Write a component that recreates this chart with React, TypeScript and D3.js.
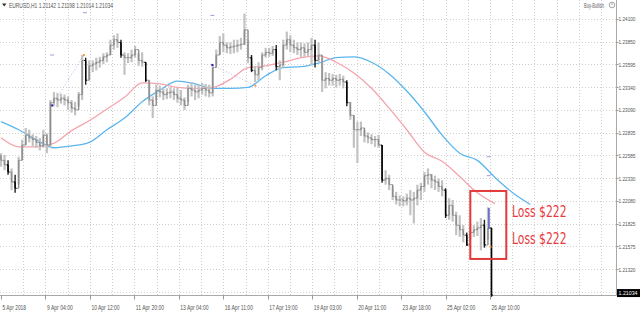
import React from "react";
import * as d3 from "d3";

// ---- data (EURUSD H1, sampled bars) ----
const highs = [
  1.2261, 1.2259, 1.2253, 1.2244, 1.2237, 1.2257, 1.2276, 1.2289, 1.2287, 1.2282,
  1.228, 1.2278, 1.2287, 1.2283, 1.232, 1.2329, 1.2328, 1.2327, 1.2326, 1.2324,
  1.232, 1.2318, 1.2329, 1.237, 1.2367, 1.2364, 1.2364, 1.2367, 1.2368, 1.2372,
  1.2373, 1.2387, 1.2392, 1.2394, 1.2387, 1.2373, 1.2372, 1.2376, 1.238, 1.2372,
  1.2373, 1.2362, 1.2342, 1.2324, 1.2337, 1.2336, 1.2333, 1.2333, 1.2334, 1.2333,
  1.2334, 1.2331, 1.2323, 1.2337, 1.234, 1.2337, 1.2337, 1.2339, 1.2338, 1.2337,
  1.2359, 1.2376, 1.2391, 1.2394, 1.2384, 1.2384, 1.2387, 1.2387, 1.2389, 1.2416,
  1.2387, 1.237, 1.2358, 1.2362, 1.2373, 1.2378, 1.2378, 1.238, 1.2381, 1.2364,
  1.2387, 1.2396, 1.2392, 1.2387, 1.2384, 1.2384, 1.2383, 1.2384, 1.2389, 1.2387,
  1.2384, 1.2367, 1.2351, 1.235, 1.2349, 1.2348, 1.2349, 1.2347, 1.2342, 1.2318,
  1.2303, 1.2296, 1.2296, 1.2287, 1.2284, 1.2282, 1.228, 1.2281, 1.227, 1.2242,
  1.2237, 1.2224, 1.2218, 1.2214, 1.2213, 1.2216, 1.222, 1.2218, 1.2226, 1.2228,
  1.224, 1.2244, 1.2238, 1.2236, 1.2233, 1.2231, 1.2222, 1.2211, 1.2209, 1.2196,
  1.2192, 1.2181, 1.2173, 1.218, 1.2181, 1.2185, 1.2189, 1.2187, 1.2201, 1.2178,
];
const lows = [
  1.2246, 1.2242, 1.2237, 1.222, 1.2217, 1.2226, 1.2253, 1.227, 1.2273, 1.2269,
  1.2267, 1.2264, 1.2267, 1.2261, 1.2267, 1.2313, 1.2312, 1.2316, 1.2314, 1.2309,
  1.2306, 1.2303, 1.2313, 1.232, 1.2337, 1.2342, 1.2351, 1.2353, 1.2356, 1.236,
  1.2362, 1.237, 1.2376, 1.2378, 1.2367, 1.2348, 1.2361, 1.2362, 1.2367, 1.2358,
  1.2357, 1.234, 1.2314, 1.23, 1.232, 1.2323, 1.232, 1.2321, 1.2322, 1.232,
  1.2317, 1.2314, 1.2309, 1.2318, 1.2324, 1.232, 1.2322, 1.2326, 1.2324, 1.2323,
  1.2324, 1.2358, 1.237, 1.2373, 1.2372, 1.2371, 1.2372, 1.2373, 1.2376, 1.2381,
  1.2361, 1.2351, 1.234, 1.2342, 1.2353, 1.2367, 1.2368, 1.2369, 1.2353, 1.2342,
  1.2356, 1.2376, 1.2373, 1.2372, 1.237, 1.2368, 1.2368, 1.2369, 1.2359, 1.2356,
  1.2362, 1.2329, 1.2333, 1.2336, 1.2336, 1.2334, 1.2336, 1.2333, 1.2313, 1.2298,
  1.2267, 1.225, 1.228, 1.2273, 1.2272, 1.2271, 1.2268, 1.2267, 1.2228, 1.2226,
  1.222, 1.2209, 1.2204, 1.2202, 1.2202, 1.2203, 1.2192, 1.2183, 1.2203, 1.2209,
  1.2218, 1.2226, 1.2222, 1.222, 1.2218, 1.2213, 1.2189, 1.2187, 1.2185, 1.217,
  1.2168, 1.2162, 1.2158, 1.2165, 1.2168, 1.2169, 1.2153, 1.2156, 1.2165, 1.21014,
];
const closes = [
  1.2253, 1.2248, 1.224, 1.2229, 1.2222, 1.2253, 1.227, 1.2281, 1.2278, 1.2276,
  1.2273, 1.2269, 1.2281, 1.227, 1.2317, 1.2322, 1.232, 1.2322, 1.232, 1.2317,
  1.2311, 1.2309, 1.2326, 1.2364, 1.2342, 1.2358, 1.236, 1.2362, 1.2364, 1.2368,
  1.237, 1.2381, 1.2387, 1.2384, 1.237, 1.2367, 1.2367, 1.237, 1.2376, 1.2364,
  1.2362, 1.2342, 1.232, 1.2314, 1.2331, 1.2329, 1.2326, 1.2328, 1.2329, 1.2326,
  1.2322, 1.232, 1.2314, 1.2333, 1.2331, 1.2329, 1.2331, 1.2333, 1.2331, 1.2328,
  1.2356, 1.237, 1.2384, 1.2381, 1.2378, 1.2379, 1.238, 1.2381, 1.2382, 1.2398,
  1.2367, 1.2353, 1.2348, 1.2356, 1.237, 1.2373, 1.2372, 1.2376, 1.2357, 1.2359,
  1.2381, 1.2387, 1.2381, 1.2378, 1.2376, 1.2378, 1.2373, 1.2376, 1.2381, 1.2364,
  1.237, 1.2342, 1.2344, 1.2342, 1.2344, 1.2342, 1.2343, 1.234, 1.2317, 1.2303,
  1.2287, 1.2287, 1.2289, 1.228, 1.2278, 1.2276, 1.2276, 1.227, 1.2231, 1.2233,
  1.2226, 1.2213, 1.2209, 1.2209, 1.2208, 1.2211, 1.2209, 1.2211, 1.222, 1.2224,
  1.2236, 1.2237, 1.2231, 1.2229, 1.2224, 1.222, 1.2192, 1.2203, 1.2192, 1.2181,
  1.2176, 1.217, 1.2159, 1.2173, 1.2176, 1.2178, 1.2181, 1.2159, 1.2178, 1.21034,
];
const firstOpen = 1.2258;
const blackBars = [2, 4, 24, 34, 41, 71, 78, 89, 98, 108, 126, 132, 137, 139];

// moving averages, one value every 5 bars
const maPink = [
  1.2278, 1.2268, 1.2268, 1.2272, 1.2286, 1.2297, 1.231, 1.2323, 1.2339, 1.2338,
  1.2334, 1.2333, 1.2334, 1.2343, 1.2356, 1.2358, 1.2362, 1.2367, 1.2369, 1.2362,
  1.235, 1.2333, 1.2311, 1.2287, 1.2262, 1.2252, 1.2235, 1.2217, 1.2205,
];
const maBlue = [
  1.2296, 1.2287, 1.2276, 1.2267, 1.2269, 1.2273, 1.2287, 1.23, 1.2318, 1.2331,
  1.2341, 1.2338, 1.2333, 1.2333, 1.2334, 1.2347, 1.2356, 1.2357, 1.2361, 1.2367,
  1.2368, 1.2362, 1.2349, 1.233, 1.2307, 1.2281, 1.2261, 1.2253, 1.2234, 1.2217,
  1.2204,
];

// price axis
const yTicks = [1.241, 1.2385, 1.23595, 1.2334, 1.2309, 1.22835, 1.22585, 1.2233, 1.2208, 1.21825, 1.21575, 1.2132];
const yTickLabels = ["1.24100", "1.23850", "1.23595", "1.23340", "1.23090", "1.22835", "1.22585", "1.22330", "1.22080", "1.21825", "1.21575", "1.21320"];
const hiddenGridPrice = 1.21065;

// time axis (hours since first bar)
const xTickHours = [0, 32, 64, 96, 128, 160, 192, 224, 256, 288, 320, 352];
const xTickLabels = [
  "5 Apr 2018", "9 Apr 04:00", "10 Apr 12:00", "11 Apr 20:00", "13 Apr 04:00", "16 Apr 11:00",
  "17 Apr 19:00", "19 Apr 03:00", "20 Apr 11:00", "23 Apr 18:00", "25 Apr 02:00", "26 Apr 10:00",
];

const symbol = "EURUSD,H1";
const quote = ["1.21142", "1.21198", "1.21014", "1.21034"];
const lastPrice = 1.21034;
const lastPriceLabel = "1.21034";
const expertName = "Buy-Bullish";

// trades (bar index, price)
const tradeOpenIdx = [14.5, 59.9];
const tradeOpenPrice = [1.2314, 1.2359];
const tradeCloseIdx = [23.5, 72.1];
const tradeClosePrice = [1.237, 1.2336];
const levelDashIdx = [23.8, 14.5, 59.9, 138.2, 138.2];
const levelDashPrice = [1.2417, 1.237, 1.2414, 1.2257, 1.2236];
const lastTradeIdx = 138.3;
const lastTradeFrom = 1.22;
const lastTradeTo = 1.2177;
const lastTradeExit = 1.2157;

const lossBoxIdx = [133, 143.2];
const lossBoxPrice = [1.2219, 1.21435];
const lossLabels = ["Loss $222", "Loss $222"];
const lossLabelPrice = [1.2196, 1.2166];

export default function App() {
  const W = 640;
  const H = 314;
  const plotRight = 616.5;
  const plotBottom = 295.5;
  const HPB = 2.54;
  const xH = d3.scaleLinear().domain([0, 352]).range([1, 490]);
  const xB = (i: number) => xH(i * HPB);
  const y = d3.scaleLinear().domain([1.2132, 1.241]).range([269.3, 19]);

  const vGrid = d3.range(16, 433, 16);
  const gridPrices = [...yTicks, hiddenGridPrice];

  const maLine = d3
    .line<number>()
    .x((_, k) => xB(k * 5))
    .y((v) => y(v))
    .curve(d3.curveMonotoneX);

  const axisFont = "'Liberation Sans', Arial, sans-serif";
  const textColor = "#555";

  return (
    <div style={{ position: "fixed", left: 0, top: 0, width: W, height: H, background: "#fff" }}>
      <svg width={W} height={H} style={{ display: "block" }}>
        <rect x={0} y={0} width={W} height={H} fill="#fff" />
        {/* grid */}
        <g stroke="#cfcfcf" strokeWidth={1} strokeDasharray="1,2">
          {vGrid.map((h) => (
            <line key={"v" + h} x1={Math.round(xH(h)) + 0.5} x2={Math.round(xH(h)) + 0.5} y1={0} y2={plotBottom} />
          ))}
          {gridPrices.map((p) => (
            <line key={"h" + p} x1={0} x2={plotRight} y1={Math.round(y(p)) + 0.5} y2={Math.round(y(p)) + 0.5} />
          ))}
        </g>

        {/* frame */}
        <line x1={plotRight} x2={plotRight} y1={0} y2={plotBottom} stroke="#a9a9a9" />
        <line x1={0} x2={plotRight} y1={plotBottom} y2={plotBottom} stroke="#a9a9a9" />

        {/* moving averages */}
        <path d={maLine(maBlue) || ""} fill="none" stroke="#5bb6ee" strokeWidth={1.3} />
        <path d={maLine(maPink) || ""} fill="none" stroke="#f5a3ad" strokeWidth={1.3} />

        {/* trade links */}
        {tradeOpenIdx.map((ti, k) => (
          <line
            key={"t" + k}
            x1={xB(ti)} y1={y(tradeOpenPrice[k])} x2={xB(tradeCloseIdx[k])} y2={y(tradeClosePrice[k])}
            stroke="#b9b4ee" strokeWidth={1} strokeDasharray="1,2"
          />
        ))}

        {/* bars */}
        <g>
          {closes.map((c, i) => {
            const o = i === 0 ? firstOpen : closes[i - 1];
            const x = xB(i);
            const isBlack = blackBars.includes(i);
            return (
              <g key={i}>
                <line x1={x} x2={x} y1={y(highs[i])} y2={y(lows[i])} stroke={isBlack ? "#222" : "#c2c2c2"} strokeWidth={isBlack ? 1.4 : 2.2} />
                <line x1={x} x2={x} y1={y(o)} y2={y(c)} stroke={isBlack ? "#000" : "#8c8c8c"} strokeWidth={1.4} />
                <line x1={x - 1.6} x2={x} y1={y(o)} y2={y(o)} stroke={isBlack ? "#000" : "#8c8c8c"} strokeWidth={1} />
                <line x1={x} x2={x + 1.6} y1={y(c)} y2={y(c)} stroke={isBlack ? "#000" : "#8c8c8c"} strokeWidth={1} />
              </g>
            );
          })}
        </g>

        {/* trade markers */}
        {tradeOpenIdx.map((ti, k) => (
          <g key={"m" + k}>
            <rect x={xB(ti) - 1} y={y(tradeOpenPrice[k]) - 1} width={2} height={2} fill="#1b1bb0" />
            <rect x={xB(tradeCloseIdx[k]) - 1} y={y(tradeClosePrice[k]) - 1} width={2} height={2} fill="#f0a040" />
          </g>
        ))}
        {levelDashIdx.map((di, k) => (
          <line key={"d" + k} x1={xB(di) - 2} x2={xB(di) + 2} y1={y(levelDashPrice[k])} y2={y(levelDashPrice[k])} stroke="#a09ae6" strokeWidth={1} />
        ))}
        <line x1={xB(lastTradeIdx)} x2={xB(lastTradeIdx)} y1={y(lastTradeFrom)} y2={y(lastTradeTo)} stroke="#3a3acc" strokeWidth={1.2} />
        <rect x={xB(lastTradeIdx) + 0.5} y={y(lastTradeExit) - 1} width={2} height={2} fill="#f0a040" />

        {/* loss box */}
        <rect
          x={xB(lossBoxIdx[0])}
          y={y(lossBoxPrice[0])}
          width={xB(lossBoxIdx[1]) - xB(lossBoxIdx[0])}
          height={y(lossBoxPrice[1]) - y(lossBoxPrice[0])}
          fill="none"
          stroke="#e23a3a"
          strokeWidth={2}
        />
        {lossLabels.map((t, k) => (
          <text
            key={"l" + k}
            x={512}
            y={y(lossLabelPrice[k]) + 5.6}
            fontFamily="'DejaVu Sans Condensed', 'DejaVu Sans', sans-serif"
            fontStretch="condensed"
            fontSize={15.5}
            fill="#e8383c"
            textLength={54.5}
            lengthAdjust="spacingAndGlyphs"
          >
            {t}
          </text>
        ))}

        {/* header */}
        <polygon points="2,3.5 6.5,3.5 4.25,6.5" fill="#333" />
        <text x={9} y={7.8} fontFamily={axisFont} fontSize={6.8} fill="#555" textLength={104} lengthAdjust="spacingAndGlyphs">
          {symbol + "  " + quote.join(" ")}
        </text>
        <text x={584} y={7.8} fontFamily={axisFont} fontSize={6.3} fill="#666" textLength={20} lengthAdjust="spacingAndGlyphs">
          {expertName}
        </text>
        <circle cx={612} cy={5} r={2.8} fill="none" stroke="#999" strokeWidth={0.9} />
        <line x1={612} x2={612} y1={3.2} y2={5.2} stroke="#999" strokeWidth={0.9} />

        {/* price axis */}
        {yTicks.map((p, k) => (
          <g key={"yt" + k}>
            <line x1={plotRight} x2={plotRight + 2} y1={Math.round(y(p)) + 0.5} y2={Math.round(y(p)) + 0.5} stroke="#999" />
            <text x={618.5} y={y(p) + 2.2} fontFamily={axisFont} fontSize={5.8} fill={textColor} textLength={17} lengthAdjust="spacingAndGlyphs">
              {yTickLabels[k]}
            </text>
          </g>
        ))}
        <rect x={617} y={y(lastPrice) - 6} width={23} height={8} fill="#000" />
        <text x={618.5} y={y(lastPrice) + 0.2} fontFamily={axisFont} fontSize={5.8} fill="#fff" textLength={19} lengthAdjust="spacingAndGlyphs">
          {lastPriceLabel}
        </text>

        {/* time axis */}
        {xTickHours.map((h, k) => (
          <g key={"xt" + k}>
            <line x1={Math.round(xH(h)) + 0.5} x2={Math.round(xH(h)) + 0.5} y1={plotBottom} y2={plotBottom + 4} stroke="#999" />
            <text
              x={xH(h) + 1.5}
              y={310}
              fontFamily={axisFont}
              fontSize={6.3}
              fill={textColor}
              textLength={xTickLabels[k].length * 2.35}
              lengthAdjust="spacingAndGlyphs"
            >
              {xTickLabels[k]}
            </text>
          </g>
        ))}
      </svg>
    </div>
  );
}
